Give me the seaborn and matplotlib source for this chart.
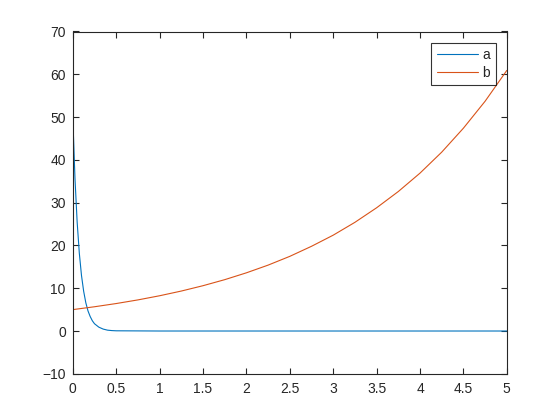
import pandas as pd
import numpy as np
import seaborn as sns
import matplotlib.pyplot as plt

# values
a_x = [0, 0.025, 0.05, 0.075, 0.1, 0.125, 0.15, 0.175, 0.2, 0.225, 0.25, 0.3,
       0.35, 0.4, 0.45, 0.5, 1, 2, 3, 4, 5]
a_y = [50, 35.7, 25.5, 18.2, 13.0, 9.3, 6.6, 4.7, 3.4, 2.4, 1.7, 0.9,
       0.45, 0.2, 0.1, 0.05, 0, 0, 0, 0, 0]
b_x = [0, 0.25, 0.5, 0.75, 1, 1.25, 1.5, 1.75, 2, 2.25, 2.5, 2.75, 3,
       3.25, 3.5, 3.75, 4, 4.25, 4.5, 4.75, 5]
b_y = [5.0, 5.67, 6.42, 7.27, 8.24, 9.34, 10.59, 12.0, 13.6, 15.4, 17.45,
       19.8, 22.4, 25.4, 28.8, 32.6, 36.9, 41.8, 47.4, 53.7, 60.9]

df = pd.concat([
    pd.DataFrame({'x': a_x, 'y': a_y, 'series': 'a'}),
    pd.DataFrame({'x': b_x, 'y': b_y, 'series': 'b'}),
])

sns.set_style('white')
plt.rcParams['font.family'] = ['Liberation Sans', 'DejaVu Sans']
axis_col = '#262626'

fig = plt.figure(figsize=(5.6, 4.2), dpi=100)
ax = fig.add_axes([0.13, 0.11, 0.775, 0.815])
sns.lineplot(data=df, x='x', y='y', hue='series', sort=True,
             palette={'a': '#0072BD', 'b': '#D95319'}, linewidth=0.8, ax=ax)

ax.set_xlim(0, 5)
ax.set_ylim(-10, 70)
ax.set_xticks(np.arange(0, 5.01, 0.5))
ax.set_xticklabels(['0', '0.5', '1', '1.5', '2', '2.5', '3', '3.5', '4', '4.5', '5'])
ax.set_yticks(range(-10, 71, 10))
ax.set_xlabel('')
ax.set_ylabel('')
for s in ax.spines.values():
    s.set_color(axis_col)
    s.set_linewidth(0.8)
ax.tick_params(direction='in', length=4, width=0.8, color=axis_col,
               labelcolor=axis_col, labelsize=10, top=True, right=True,
               bottom=True, left=True)
ax.tick_params(axis='x', pad=6)
ax.tick_params(axis='y', pad=5)

leg = ax.legend(loc='upper right', fontsize=10, frameon=True, fancybox=False,
                edgecolor='black', handlelength=3.0, handletextpad=0.3,
                borderpad=0.4, labelspacing=0.25, borderaxespad=0.8)
leg.get_frame().set_linewidth(0.8)

fig.savefig('out.png', dpi=100)
